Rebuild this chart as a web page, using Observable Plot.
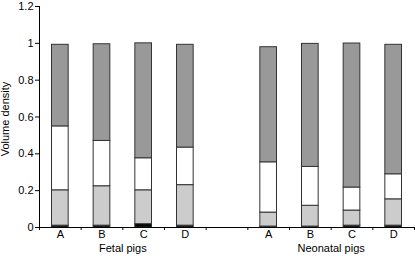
<!DOCTYPE html>
<html>
<head>
<meta charset="utf-8">
<script src="https://cdn.jsdelivr.net/npm/d3@7"></script>
<script src="https://cdn.jsdelivr.net/npm/@observablehq/plot@0.6"></script>
<style>
  html, body { margin: 0; padding: 0; background: #fff; }
</style>
</head>
<body>
<div id="chart"></div>
<script>
// ---- data ----
const groups = ["Fetal pigs", "Neonatal pigs"];
const categories = ["A", "B", "C", "D"];
const series = ["Layer 1", "Layer 2", "Layer 3", "Layer 4"]; // bottom -> top
// values per bar, order: Fetal A-D, Neonatal A-D
const layer1 = [0.010, 0.010, 0.018, 0.010, 0.005, 0.005, 0.010, 0.010]; // black
const layer2 = [0.192, 0.214, 0.184, 0.220, 0.076, 0.113, 0.082, 0.143]; // light gray
const layer3 = [0.347, 0.246, 0.174, 0.204, 0.273, 0.211, 0.125, 0.136]; // white
const layer4 = [0.443, 0.525, 0.624, 0.558, 0.625, 0.668, 0.782, 0.703]; // dark gray
const yTicks = [0, 0.2, 0.4, 0.6, 0.8, 1, 1.2];

const layers = [layer1, layer2, layer3, layer4];
const keys = [];
groups.forEach(g => categories.forEach(c => keys.push(g + "|" + c)));
const domain = [...keys.slice(0, 4), "gap", ...keys.slice(4)];
const rows = [];
keys.forEach((k, i) => series.forEach((s, j) => rows.push({key: k, series: s, value: layers[j][i]})));
const groupRows = groups.map((g, i) => ({key: keys[i * 4 + 1], label: g}));

const W = 415, H = 256, ML = 39, MR = 1, MT = 6, MB = 29;
const step = (W - ML - MR) / domain.length;

const chart = Plot.plot({
  width: W, height: H,
  marginLeft: ML, marginRight: MR, marginTop: MT, marginBottom: MB,
  style: {fontFamily: "'Liberation Sans', Arial, sans-serif", fontSize: "11px", background: "#fff", color: "#000", overflow: "visible"},
  x: {domain, paddingInner: 0.6, paddingOuter: 0.3, round: false, axis: null},
  y: {domain: [0, 1.2], axis: null},
  color: {domain: series, range: ["#000000", "#cccccc", "#ffffff", "#999999"]},
  marks: [
    Plot.barY(rows, {x: "key", y: "value", fill: "series", stroke: "#333", strokeWidth: 1}),
    Plot.ruleY([0], {stroke: "#000"}),
    Plot.ruleX([domain[0]], {y1: 0, y2: 1.2, dx: -step / 2, stroke: "#000"}),
    Plot.axisX({ticks: domain, tickSize: 3, tickFormat: () => "", dx: -step / 2, label: null}),
    Plot.axisX({ticks: [domain[domain.length - 1]], tickSize: 3, tickFormat: () => "", dx: step / 2, label: null}),
    Plot.axisX({ticks: domain, tickSize: 0, tickPadding: 3, tickFormat: k => k === "gap" ? "" : k.split("|")[1], label: null}),
    Plot.axisY({ticks: yTicks, tickSize: 4, tickPadding: 2, tickFormat: d => String(+d.toFixed(1)), label: null}),
    Plot.text(groupRows, {x: "key", y: () => 0, text: "label", dx: step / 2, dy: 21, lineAnchor: "middle", fontSize: 11}),
    Plot.text(["Volume density"], {frameAnchor: "left", textAnchor: "middle", dx: -34, dy: 2, rotate: -90, lineAnchor: "middle", fontSize: 11})
  ]
});
document.getElementById("chart").appendChild(chart);
</script>
</body>
</html>
